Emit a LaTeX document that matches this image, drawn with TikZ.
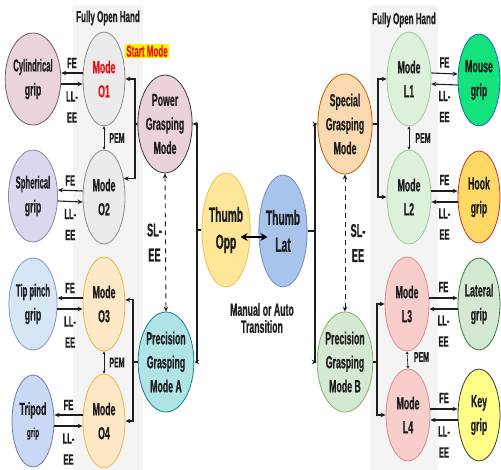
\documentclass[tikz,border=0pt]{standalone}
\usepackage{fontspec}
\setmainfont{Liberation Sans}[FakeStretch=0.5, BoldFeatures={FakeBold=0.6}]
\newfontfamily\narrowfont{Liberation Sans}[FakeStretch=0.44, BoldFeatures={FakeBold=0.6}]
\usetikzlibrary{arrows.meta,calc,shapes.geometric}

\definecolor{txt}{HTML}{1E1E1E}
\definecolor{panel}{HTML}{F4F4F4}
\definecolor{cylF}{HTML}{EBD3DE}\definecolor{cylD}{HTML}{6D5E6A}
\definecolor{sphF}{HTML}{DCD6EE}\definecolor{sphD}{HTML}{8F87A6}
\definecolor{tipF}{HTML}{D6E6F7}\definecolor{tipD}{HTML}{7E9AB8}
\definecolor{triF}{HTML}{C9D8F5}\definecolor{triD}{HTML}{6E7F9C}
\definecolor{grayF}{HTML}{EBEBEB}\definecolor{grayD}{HTML}{8C8C8C}
\definecolor{oF}{HTML}{FFE8C6}\definecolor{oD}{HTML}{E8B34F}
\definecolor{powF}{HTML}{EAD1DC}\definecolor{powD}{HTML}{3A3A3A}
\definecolor{paF}{HTML}{B0E3E6}\definecolor{paD}{HTML}{0E8088}
\definecolor{oppF}{HTML}{FFE699}\definecolor{oppD}{HTML}{E5C54C}
\definecolor{latF}{HTML}{A9C4EB}\definecolor{latD}{HTML}{6C8EBF}
\definecolor{spF}{HTML}{FAD9B0}\definecolor{spD}{HTML}{B46504}
\definecolor{pbF}{HTML}{D5E8D4}\definecolor{pbD}{HTML}{82B366}
\definecolor{lgF}{HTML}{DDF0DC}\definecolor{lgD}{HTML}{9CCB94}
\definecolor{lrF}{HTML}{F8CECC}\definecolor{lrD}{HTML}{D98C8A}
\definecolor{mouF}{HTML}{14E27A}\definecolor{mouD}{HTML}{0B6EAF}
\definecolor{hookF}{HTML}{FFD966}\definecolor{hookD}{HTML}{CC2A2A}
\definecolor{latgF}{HTML}{D5E8D4}\definecolor{latgD}{HTML}{2F7D32}
\definecolor{keyF}{HTML}{FFFF88}\definecolor{keyD}{HTML}{36393D}
\definecolor{startR}{HTML}{E8141A}

\tikzset{
  ell/.style={ellipse, draw, line width=0.8pt, inner sep=0pt, align=center,
    text=txt, font=\bfseries\fontsize{17.5}{24}\selectfont},
  grip/.style={ell, minimum width=42pt, minimum height=92pt},
  modebox/.style={ell, minimum width=42pt, minimum height=94pt},
  hub/.style={ell, minimum width=44pt, minimum height=100pt},
  thumb/.style={ell, minimum width=48pt, minimum height=114pt,
    font=\bfseries\fontsize{20.5}{27}\selectfont},
  lbl/.style={text=txt, align=center, inner sep=0pt,
    font=\bfseries\fontsize{15}{21}\selectfont},
  pemlbl/.style={text=txt, inner sep=0pt, font=\bfseries\fontsize{14}{15}\selectfont},
  sllbl/.style={text=txt, align=center, inner sep=0pt,
    font=\bfseries\fontsize{18.5}{25}\selectfont},
  conn/.style={draw=txt, line width=1.1pt},
  arr/.style={conn, -{Stealth[length=5pt,width=4.5pt]}},
  pem/.style={draw=txt, line width=0.6pt,
    {Stealth[length=3pt,width=3pt]}-{Stealth[length=3pt,width=3pt]}},
  slee/.style={draw=txt, line width=0.9pt, dash pattern=on 5pt off 4pt,
    {Stealth[length=5pt,width=4.5pt]}-{Stealth[length=5pt,width=4.5pt]}},
  thumbarrow/.style={draw=black, line width=2.6pt,
    {Stealth[length=7pt,width=8pt]}-{Stealth[length=7pt,width=8pt]}}
}

\begin{document}
\begin{tikzpicture}[x=1pt,y=-1pt]
\useasboundingbox (0,0) rectangle (501,470);
\fill[white] (0,0) rectangle (501,470);

% shaded "fully open hand" columns
\fill[panel] (73,5) rectangle (143,470);
\fill[panel] (370,5) rectangle (438,470);
\node[lbl, font=\bfseries\fontsize{16}{16}\selectfont] (fohL) at (108,18) {Fully Open Hand};
\node[lbl, font=\bfseries\fontsize{16}{16}\selectfont] (fohR) at (404,20) {Fully Open Hand};

% left grips
\node[grip, fill=cylF, draw=cylD] (gCyl) at (33,79) {\narrowfont Cylindrical\\grip};
\node[grip, fill=sphF, draw=sphD] (gSph) at (33,196) {\narrowfont Spherical\\grip};
\node[grip, fill=tipF, draw=tipD] (gTip) at (33,304) {\narrowfont Tip pinch\\grip};
\node[grip, fill=triF, draw=triD] (gTri) at (33,421) {Tripod\\[-2pt]{\fontsize{13}{14}\selectfont grip}};

% left modes
\node[modebox, fill=grayF, draw=grayD, text=startR] (mO1) at (104,79) {Mode\\O1};
\node[modebox, fill=grayF, draw=grayD] (mO2) at (104,197) {Mode\\O2};
\node[modebox, fill=oF, draw=oD] (mO3) at (104,304) {Mode\\O3};
\node[modebox, fill=oF, draw=oD] (mO4) at (104,421) {Mode\\O4};

% left grasping modes
\node[hub, fill=powF, draw=powD, minimum height=98pt] (pgm) at (165,124) {Power\\Grasping\\Mode};
\node[hub, fill=paF, draw=paD] (pgA) at (166,362) {Precision\\Grasping\\Mode A};

% thumb states
\node[thumb, fill=oppF, draw=oppD] (tOpp) at (226,230) {Thumb\\Opp};
\node[thumb, fill=latF, draw=latD, minimum height=112pt] (tLat) at (283,231) {Thumb\\Lat};

% right grasping modes
\node[hub, fill=spF, draw=spD, minimum width=45pt] (sgm) at (345,124) {Special\\Grasping\\Mode};
\node[hub, fill=pbF, draw=pbD] (pgB) at (345,362) {Precision\\Grasping\\Mode B};

% right modes
\node[modebox, fill=lgF, draw=lgD, minimum width=44pt] (mL1) at (409,79) {Mode\\L1};
\node[modebox, fill=lgF, draw=lgD, minimum width=44pt] (mL2) at (409,197) {Mode\\L2};
\node[modebox, fill=lrF, draw=lrD, minimum width=44pt] (mL3) at (407,304) {Mode\\L3};
\node[modebox, fill=lrF, draw=lrD, minimum width=44pt, minimum height=92pt] (mL4) at (408,415) {Mode\\L4};

% right grips
\node[grip, fill=mouF, draw=mouD] (gMou) at (479,80) {Mouse\\grip};
\node[grip, fill=hookF, draw=hookD] (gHook) at (479,197) {Hook\\grip};
\node[grip, fill=latgF, draw=latgD] (gLat) at (479,304) {Lateral\\grip};
\node[grip, fill=keyF, draw=keyD] (gKey) at (479,415) {Key\\grip};

% start marker
\node[fill=yellow, text=startR, inner sep=1.2pt,
  font=\bfseries\fontsize{16}{17}\selectfont] (start) at (147,51) {Start Mode};

% transition caption
\node[lbl, font=\bfseries\fontsize{17.5}{17}\selectfont] (manual) at (262,318) {Manual or Auto\\Transition};

% thumb switch
\draw[thumbarrow] ([xshift=-10pt,yshift=-7pt]tOpp.east) -- ([xshift=9pt,yshift=-6pt]tLat.west);

% left tree
\coordinate (jL) at (197,230);
\draw[conn] (tOpp.west) -- (jL);
\draw[arr] (jL) |- (pgm.east);
\draw[arr] (jL) |- (pgA.east);

\coordinate (jP) at (135,124);
\draw[conn] (pgm.west) -- (jP);
\draw[arr] (jP) |- (mO1.east);
\draw[arr] (jP) |- (mO2.43);

\coordinate (jA) at (133,362);
\draw[conn] (pgA.west) -- (jA);
\draw[arr] (jA) |- (mO3.11);
\draw[arr] (jA) |- (mO4.east);

% right tree
\coordinate (jR) at (315,231);
\draw[conn] (tLat.east) -- (jR);
\draw[arr] (jR) |- (sgm.west);
\draw[arr] (jR) |- (pgB.west);

\coordinate (jS) at (378,124);
\draw[conn] (sgm.east) -- (jS);
\draw[arr] (jS) |- (mL1.west);
\draw[arr] (jS) |- (mL2.west);

\coordinate (jB) at (377,362);
\draw[conn] (pgB.east) -- (jB);
\draw[arr] (jB) |- (mL3.west);
\draw[arr] (jB) |- (mL4.west);

% SL-EE switches
\draw[slee] (pgm.south) -- (pgA.north);
\node[sllbl] (slL) at ($(pgm.south)!.5!(pgA.north)+(-11,0)$) {SL-\\EE};
\draw[slee] (sgm.south) -- (pgB.north);
\node[sllbl] (slR) at ($(sgm.south)!.5!(pgB.north)+(13,0)$) {SL-\\EE};

% PEM links
\draw[pem] (mO1.south) -- (mO2.north);
\node[pemlbl] (pem1) at ($(mO1.south)!.5!(mO2.north)+(13,0)$) {PEM};
\draw[pem] (mO3.south) -- (mO4.north);
\node[pemlbl] (pem2) at ($(mO3.south)!.5!(mO4.north)+(13,0)$) {PEM};
\draw[pem] (mL1.south) -- (mL2.north);
\node[pemlbl] (pem3) at ($(mL1.south)!.5!(mL2.north)+(14,0)$) {PEM};
\draw[pem] (mL3.south) -- (mL4.north);
\node[pemlbl] (pem4) at ($(mL3.south)!.5!(mL4.north)+(14,-3)$) {PEM};

% FE / LL-EE links, left side
\foreach \m/\g in {mO1/gCyl, mO2/gSph, mO3/gTip, mO4/gTri} {
  \draw[arr] ([yshift=6pt]\m.west) -- ([yshift=6pt]\g.east);
  \draw[arr] ([yshift=-5pt]\g.east) -- ([yshift=-5pt]\m.west);
  \node[lbl] at ($(\g.east)!.5!(\m.west)+(0,-16)$) {FE};
  \node[lbl] at ($(\g.east)!.5!(\m.west)+(0,28)$) {LL-\\EE};
}
% FE / LL-EE links, right side
\foreach \m/\g in {mL1/gMou, mL2/gHook, mL3/gLat, mL4/gKey} {
  \draw[arr] ([yshift=6pt]\m.east) -- ([yshift=6pt]\g.west);
  \draw[arr] ([yshift=-5pt]\g.west) -- ([yshift=-5pt]\m.east);
  \node[lbl] at ($(\m.east)!.5!(\g.west)+(0,-17)$) {FE};
  \node[lbl] at ($(\m.east)!.5!(\g.west)+(0,27)$) {LL-\\EE};
}
\end{tikzpicture}
\end{document}
